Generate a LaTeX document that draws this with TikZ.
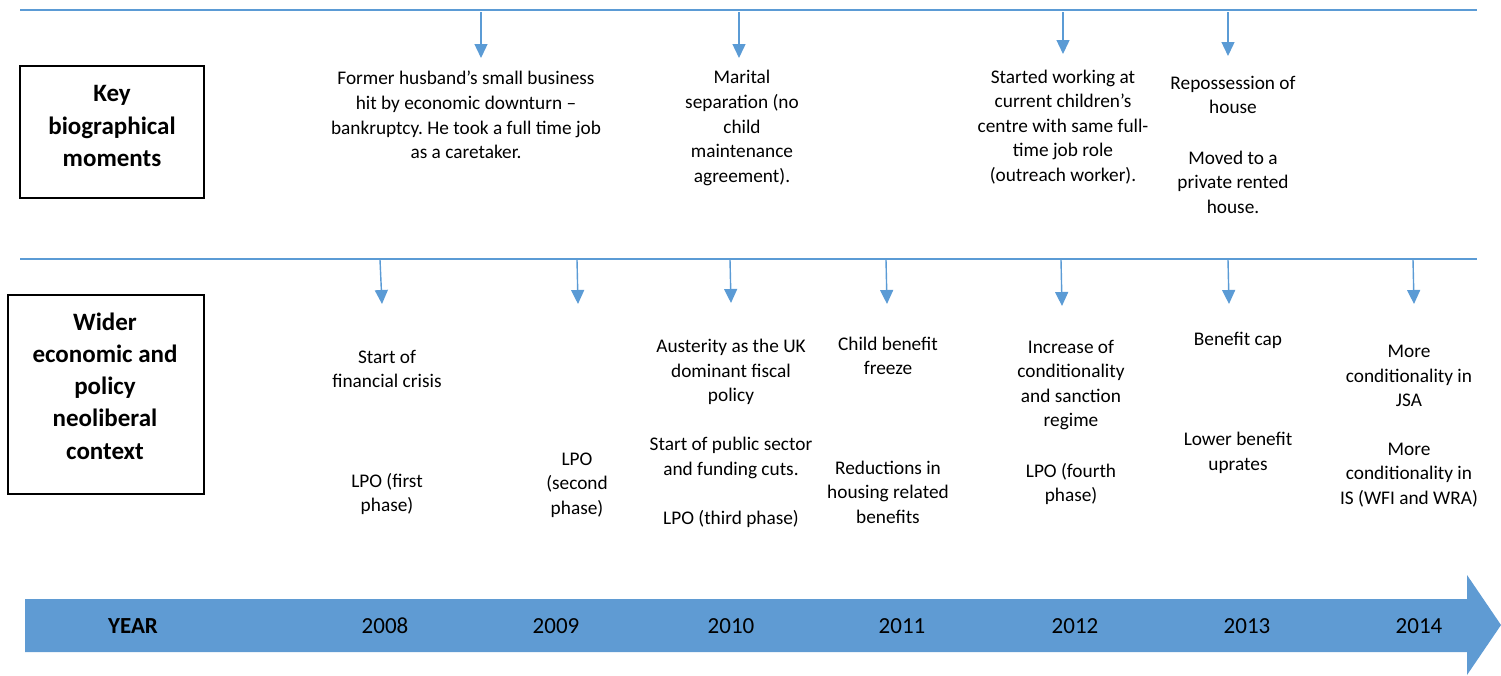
\documentclass[tikz,border=0pt]{standalone}
\usepackage{fontspec}
\setmainfont{Carlito}
\usetikzlibrary{arrows.meta}
\definecolor{lineblue}{HTML}{5B9BD5}
\definecolor{bandblue}{HTML}{5F9BD3}
\frenchspacing
\begin{document}
\begin{tikzpicture}[x=1pt,y=-1pt,
  txt/.style={align=center,inner sep=0pt,font=\fontsize{19.3}{24.6}\selectfont},
  boxtxt/.style={align=center,inner sep=0pt,font=\fontsize{25}{32.2}\selectfont\bfseries},
  yr/.style={inner sep=0pt,font=\fontsize{23}{26}\selectfont},
  rule/.style={draw=lineblue,line width=1.4pt},
  pointer/.style={draw=lineblue,fill=lineblue,line width=1.4pt,-{Triangle[width=13pt,length=14pt]}},
  labelbox/.style={draw=black,line width=1.3pt}]
\useasboundingbox (0,0) rectangle (1501,675);
% horizontal rules
\coordinate (r1l) at (20,10); \coordinate (r1r) at (1477,10);
\coordinate (r2l) at (20,259); \coordinate (r2r) at (1477,259);
\draw[rule] (r1l) -- (r1r);
\draw[rule] (r2l) -- (r2r);
% label boxes
\draw[labelbox] (20,66) rectangle (204,198);
\node[boxtxt] (kbm) at (112,126) {Key\\biographical\\moments};
\draw[labelbox] (8,295) rectangle (204,494);
\node[boxtxt] (wep) at (105,386) {Wider\\economic and\\policy\\neoliberal\\context};
% top row texts
\node[txt] (t1) at (466,115) {Former husband’s small business\\hit by economic downturn –\\bankruptcy. He took a full time job\\as a caretaker.};
\node[txt] (t2) at (742,128) {Marital\\separation (no\\child\\maintenance\\agreement).};
\node[txt] (t3) at (1063,127) {Started working at\\current children’s\\centre with same full-\\time job role\\(outreach worker).};
\node[txt] (t4a) at (1233,95) {Repossession of\\house};
\node[txt] (t4b) at (1233,182) {Moved to a\\private rented\\house.};
% top arrows
\foreach \n/\x/\y in {a/481/58,b/739/58,c/1063/54,d/1228/56}{
  \coordinate (ts\n) at (\x,12);
  \coordinate (te\n) at (\x,\y);
  \draw[pointer] (ts\n) -- (te\n);
}
% bottom row texts
\node[txt] (a08) at (387,369) {Start of\\financial crisis};
\node[txt] (b08) at (387,494) {LPO (first\\phase)};
\node[txt] (b09) at (577,485) {LPO\\(second\\phase)};
\node[txt] (a10) at (731,372) {Austerity as the UK\\dominant fiscal\\policy};
\node[txt] (b10) at (731,458) {Start of public sector\\and funding cuts.};
\node[txt] (c10) at (731,519) {LPO (third phase)};
\node[txt] (a11) at (888,356) {Child benefit\\freeze};
\node[txt] (b11) at (888,492) {Reductions in\\housing related\\benefits};
\node[txt] (a12) at (1071,385) {Increase of\\conditionality\\and sanction\\regime};
\node[txt] (b12) at (1071,484) {LPO (fourth\\phase)};
\node[txt] (a13) at (1238,340) {Benefit cap};
\node[txt] (b13) at (1238,453) {Lower benefit\\uprates};
\node[txt] (a14) at (1409,376) {More\\conditionality in\\JSA};
\node[txt] (b14) at (1409,475) {More\\conditionality in\\IS (WFI and WRA)};
% bottom arrows
\foreach \n/\x/\xe/\y in {a/380/382/304,b/577/578/304,c/730/731/303,d/886/887/304,e/1061/1062/306,f/1228/1229/304,g/1413/1414/304}{
  \coordinate (bs\n) at (\x,260);
  \coordinate (be\n) at (\xe,\y);
  \draw[pointer] (bs\n) -- (be\n);
}
% year band arrow
\fill[bandblue] (25,599) -- (1467,599) -- (1467,575) -- (1501,625) -- (1467,675) -- (1467,652) -- (25,652) -- cycle;
\node[yr,font=\fontsize{23}{26}\selectfont\bfseries] (year) at (133,626) {YEAR};
\node[yr] (y08) at (385,626) {2008};
\node[yr] (y09) at (556,626) {2009};
\node[yr] (y10) at (731,626) {2010};
\node[yr] (y11) at (902,626) {2011};
\node[yr] (y12) at (1075,626) {2012};
\node[yr] (y13) at (1247,626) {2013};
\node[yr] (y14) at (1419,626) {2014};
\end{tikzpicture}
\end{document}
